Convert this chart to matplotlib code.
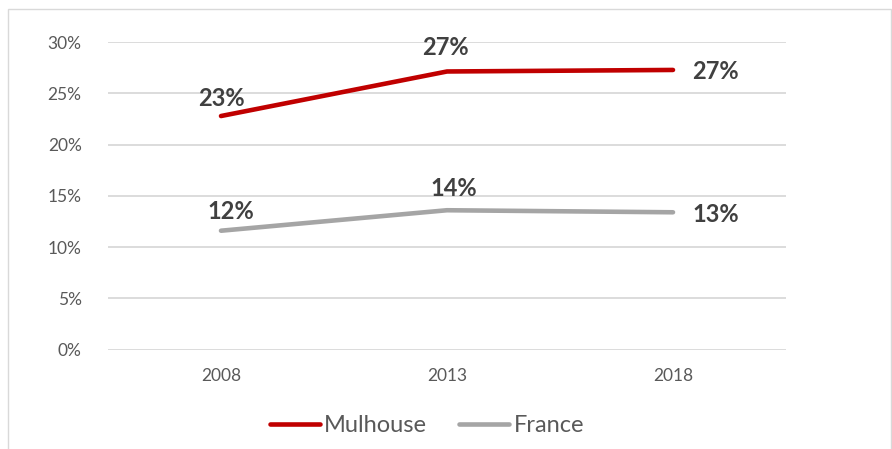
import matplotlib.pyplot as plt
from matplotlib.patches import Rectangle
from matplotlib.ticker import PercentFormatter

years = ["2008", "2013", "2018"]
mulhouse = [22.8, 27.15, 27.3]
france = [11.6, 13.6, 13.4]

# label placement per point: (dx, dy, ha) in pixels
mulhouse_label_pos = [(0, 18, "center"), (-2, 24, "center"), (19, -2, "left")]
france_label_pos = [(10, 19, "center"), (7, 22, "center"), (19, -2, "left")]

RED = "#C00000"
GREY = "#A5A5A5"
TEXT = "#595959"
LABEL = "#404040"

plt.rcParams["font.family"] = ["Lato", "DejaVu Sans"]

fig = plt.figure(figsize=(8.92, 4.49), dpi=100)
ax = fig.add_axes([108 / 892, 1 - 349.5 / 449, (786 - 108) / 892, (349.5 - 42.3) / 449])

x = range(len(years))
ax.plot(x, mulhouse, color=RED, lw=3.3, solid_capstyle="round", label="Mulhouse", zorder=3)
ax.plot(x, france, color=GREY, lw=3.3, solid_capstyle="round", label="France", zorder=3)

for series, positions in ((mulhouse, mulhouse_label_pos), (france, france_label_pos)):
    for i, (val, (dx, dy, ha)) in enumerate(zip(series, positions)):
        ax.annotate(f"{val:.0f}%", (i, val), xytext=(dx, dy), textcoords="offset pixels",
                    ha=ha, va="center", fontsize=17, fontweight="bold", color=LABEL)

ax.set_xlim(-0.5, 2.5)
ax.set_ylim(0, 30)
ax.set_yticks(range(0, 31, 5))
ax.yaxis.set_major_formatter(PercentFormatter(decimals=0))
ax.set_xticks(list(x))
ax.set_xticklabels(years)
ax.grid(axis="y", color="#D9D9D9", lw=1.3)
ax.set_axisbelow(True)
for spine in ax.spines.values():
    spine.set_visible(False)
ax.tick_params(length=0, labelsize=12.5, labelcolor=TEXT)
ax.tick_params(axis="y", pad=19)
ax.tick_params(axis="x", pad=13)

leg = fig.legend(loc="center", bbox_to_anchor=(427 / 892, 1 - 426 / 449), ncol=2, frameon=False,
                 fontsize=17, handlelength=2.1, handletextpad=0.2, columnspacing=1.35)
for t in leg.get_texts():
    t.set_color(TEXT)

# light frame around the chart area
fig.patches.append(Rectangle((8 / 892, -0.05), (891 - 8) / 892, 1.05 - 8.5 / 449,
                             transform=fig.transFigure, fill=False, edgecolor="#D9D9D9", lw=1))

fig.savefig("out.png", dpi=100)
